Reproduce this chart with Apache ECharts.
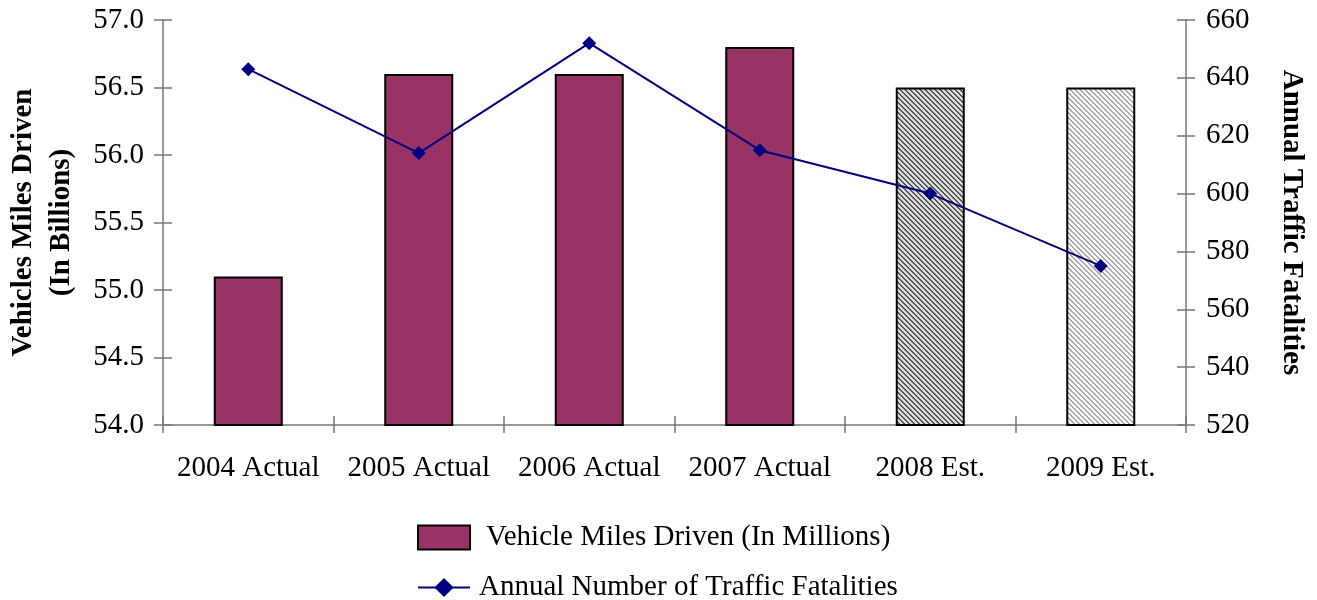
<!DOCTYPE html>
<html>
<head>
<meta charset="utf-8">
<script src="https://cdn.jsdelivr.net/npm/echarts@6/dist/echarts.min.js"></script>
<style>
  html, body { margin: 0; padding: 0; background: #fff; }
  #chart { width: 1317px; height: 600px; }
</style>
</head>
<body>
<div id="chart"></div>
<script>
// Chart data
const categories = ['2004 Actual', '2005 Actual', '2006 Actual', '2007 Actual', '2008 Est.', '2009 Est.'];
const milesDriven = [55.1, 56.6, 56.6, 56.8, 56.5, 56.5];
const fatalities = [643, 614, 652, 615, 600, 575];
const barName = 'Vehicle Miles Driven (In Millions)';
const lineName = 'Annual Number of Traffic Fatalities';

const FONT = '"Liberation Serif", "Times New Roman", serif';
const AXIS_COLOR = '#777';
const FS = 29;

// Diagonal stripe pattern ("\" direction) drawn pixel by pixel into a small tile
function stripeTile(size, onCount, onColor, offColor) {
  const c = document.createElement('canvas');
  c.width = size; c.height = size;
  const ctx = c.getContext('2d');
  for (let y = 0; y < size; y++) {
    for (let x = 0; x < size; x++) {
      const k = ((x - y) % size + size) % size;
      ctx.fillStyle = k < onCount ? onColor : offColor;
      ctx.fillRect(x, y, 1, 1);
    }
  }
  return { image: c, repeat: 'repeat' };
}

const darkHatch = stripeTile(5, 2, '#555555', '#dcdcdc');
const lightHatch = stripeTile(5, 2, '#a8a8a8', '#ffffff');
const barFills = ['#993366', '#993366', '#993366', '#993366', darkHatch, lightHatch];

const chart = echarts.init(document.getElementById('chart'));

const textBase = { fontFamily: FONT, color: '#000' };
const tickStyle = { color: AXIS_COLOR, width: 1.5 };

chart.setOption({
  animation: false,
  backgroundColor: '#fff',
  textStyle: { fontFamily: FONT },
  grid: { left: 163, right: 131, top: 20, bottom: 175, containLabel: false, outerBoundsMode: 'none' },
  legend: [
    {
      data: [{ name: barName, icon: 'rect' }],
      left: 412, top: 518,
      itemWidth: 52, itemHeight: 24, itemGap: 0,
      textStyle: Object.assign({ fontSize: FS, padding: [0, 0, 0, 11] }, textBase)
    },
    {
      data: [lineName],
      left: 412, top: 568,
      itemWidth: 52, itemHeight: 24, itemGap: 0,
      textStyle: Object.assign({ fontSize: FS, padding: [0, 0, 0, 4] }, textBase)
    }
  ],
  xAxis: [
    {
      type: 'category',
      data: categories,
      axisLine: { lineStyle: tickStyle },
      axisTick: { show: true, length: 8, lineStyle: tickStyle },
      axisLabel: Object.assign({ fontSize: FS, margin: 29, interval: 0 }, textBase),
      splitLine: { show: false }
    },
    {
      type: 'category',
      data: categories,
      position: 'bottom',
      axisLine: { show: false },
      axisTick: { show: true, inside: true, length: 9, lineStyle: tickStyle },
      axisLabel: { show: false },
      splitLine: { show: false }
    }
  ],
  yAxis: [
    {
      type: 'value',
      min: 54, max: 57, interval: 0.5,
      position: 'left',
      name: 'Vehicles Miles Driven\n(In Billions)',
      nameLocation: 'middle',
      nameRotate: 90,
      nameGap: 82,
      nameMoveOverlap: false,
      nameTextStyle: Object.assign({ fontSize: FS, fontWeight: 'bold', lineHeight: 38 }, textBase),
      axisLine: { show: true, lineStyle: tickStyle },
      axisTick: { show: true, length: 9, lineStyle: tickStyle },
      axisLabel: Object.assign({ fontSize: FS, margin: 19, formatter: v => v.toFixed(1) }, textBase),
      splitLine: { show: false }
    },
    {
      type: 'value',
      min: 520, max: 660, interval: 20,
      position: 'right',
      name: 'Annual Traffic Fatalities',
      nameLocation: 'middle',
      nameRotate: -90,
      nameGap: 91,
      nameMoveOverlap: false,
      nameTextStyle: Object.assign({ fontSize: FS, fontWeight: 'bold' }, textBase),
      axisLine: { show: true, lineStyle: tickStyle },
      axisTick: { show: true, length: 9, lineStyle: tickStyle },
      axisLabel: Object.assign({ fontSize: FS, margin: 20 }, textBase),
      splitLine: { show: false }
    },
    {
      type: 'value',
      min: 54, max: 57, interval: 0.5,
      position: 'left',
      axisLine: { show: false },
      axisTick: { show: true, inside: true, length: 9, lineStyle: tickStyle },
      axisLabel: { show: false },
      splitLine: { show: false }
    },
    {
      type: 'value',
      min: 520, max: 660, interval: 20,
      position: 'right',
      axisLine: { show: false },
      axisTick: { show: true, inside: true, length: 9, lineStyle: tickStyle },
      axisLabel: { show: false },
      splitLine: { show: false }
    }
  ],
  series: [
    {
      name: barName,
      type: 'bar',
      xAxisIndex: 0,
      yAxisIndex: 0,
      barWidth: 69,
      data: milesDriven.map((v, i) => ({
        value: v,
        itemStyle: { color: barFills[i], borderColor: '#000', borderWidth: 2 }
      })),
      itemStyle: { color: '#993366', borderColor: '#000', borderWidth: 2 }
    },
    {
      name: lineName,
      type: 'line',
      xAxisIndex: 0,
      yAxisIndex: 1,
      data: fatalities,
      symbol: 'diamond',
      symbolSize: 14,
      lineStyle: { color: '#000080', width: 2 },
      itemStyle: { color: '#000080' }
    }
  ]
});
</script>
</body>
</html>
